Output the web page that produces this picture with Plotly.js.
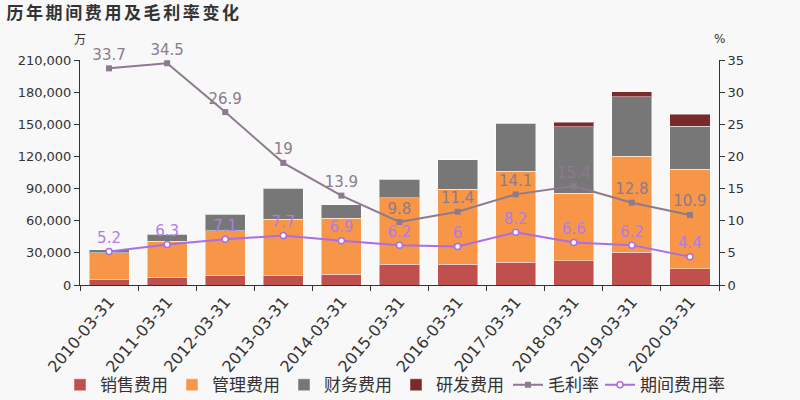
<!DOCTYPE html>
<html>
<head>
<meta charset="utf-8">
<script src="https://cdn.plot.ly/plotly-3.0.1.min.js"></script>
<style>html,body{margin:0;padding:0;background:#f8f8f8;}#chart{width:800px;height:400px;}
#chart .gtitle{letter-spacing:2.6px;}</style>
</head>
<body>
<div id="chart"></div>
<script>
var categories = ['2010-03-31','2011-03-31','2012-03-31','2013-03-31','2014-03-31','2015-03-31','2016-03-31','2017-03-31','2018-03-31','2019-03-31','2020-03-31'];
var salesExp = [5300, 7200, 9300, 9000, 10000, 19600, 19300, 21200, 22700, 30500, 15200];
var adminExp = [24800, 33600, 41400, 52600, 52200, 61900, 70300, 85200, 62900, 89600, 92800];
var financeExp = [2600, 6800, 15300, 28900, 12500, 17100, 27100, 44500, 61900, 55600, 40400];
var rdExp = [0, 0, 0, 0, 0, 0, 0, 0, 4300, 4700, 11200];
var grossMargin = [33.7, 34.5, 26.9, 19, 13.9, 9.8, 11.4, 14.1, 15.4, 12.8, 10.9];
var periodRate = [5.2, 6.3, 7.1, 7.7, 6.9, 6.2, 6, 8.2, 6.6, 6.2, 4.4];

var cjk = '"Noto Sans CJK SC", "DejaVu Sans", sans-serif';
var barLine = {color: 'rgba(255,255,255,0.45)', width: 1};

function barTrace(name, vals, color) {
  return {type: 'bar', name: name, x: categories, y: vals,
    marker: {color: color, line: barLine}, hoverinfo: 'y+name'};
}

var traces = [
  barTrace('销售费用', salesExp, '#c0504d'),
  barTrace('管理费用', adminExp, '#f79646'),
  barTrace('财务费用', financeExp, '#777777'),
  barTrace('研发费用', rdExp, '#7b2a2a'),
  {type: 'scatter', name: '毛利率', x: categories, y: grossMargin, yaxis: 'y2', cliponaxis: false,
    mode: 'lines+markers+text', text: grossMargin.map(String), textposition: 'top center',
    textfont: {color: '#8c7b8e', size: 15, family: 'DejaVu Sans, sans-serif'},
    line: {color: '#8c7b8e', width: 2}, marker: {symbol: 'square', size: 6, color: '#8c7b8e'}},
  {type: 'scatter', name: '期间费用率', x: categories, y: periodRate, yaxis: 'y2', cliponaxis: false, legend: 'legend2',
    mode: 'lines+markers+text', text: periodRate.map(String), textposition: 'top center',
    textfont: {color: '#b07ce8', size: 15, family: 'DejaVu Sans, sans-serif'},
    line: {color: '#a96ee6', width: 2}, marker: {symbol: 'circle', size: 6, color: '#ffffff', line: {color: '#a96ee6', width: 1.5}}}
];

var legendFont = {family: cjk, size: 17, color: '#333333'};

var layout = {
  width: 800, height: 400,
  paper_bgcolor: '#f8f8f8', plot_bgcolor: '#f8f8f8',
  margin: {l: 80, r: 81, t: 60, b: 115},
  barmode: 'stack', bargap: 0.31,
  font: {family: 'DejaVu Sans, sans-serif', color: '#333333', size: 13},
  title: {text: '历年期间费用及毛利率变化', xref: 'container', yref: 'container', x: 0.008, xanchor: 'left',
    y: 0.967, yanchor: 'middle', font: {family: cjk, size: 17, color: '#333', weight: 'bold'}},
  showlegend: true,
  legend: {orientation: 'h', traceorder: 'normal', xref: 'container', yref: 'container',
    x: 0.075, xanchor: 'left', y: 0.037, yanchor: 'middle', entrywidth: 67, entrywidthmode: 'pixels',
    font: legendFont, bgcolor: 'rgba(0,0,0,0)', itemwidth: 30},
  legend2: {orientation: 'h', xref: 'container', yref: 'container',
    x: 0.75, xanchor: 'left', y: 0.037, yanchor: 'middle',
    font: legendFont, bgcolor: 'rgba(0,0,0,0)', itemwidth: 30},
  xaxis: {type: 'category', tickangle: -50, tickson: 'boundaries', ticks: 'outside', ticklen: 5, automargin: false,
    tickcolor: '#333', showline: true, linecolor: '#333', linewidth: 1, showgrid: false,
    tickfont: {size: 16, color: '#333'}, range: [-0.5, 10.5]},
  yaxis: {range: [0, 210000], tickvals: [0,30000,60000,90000,120000,150000,180000,210000], automargin: false,
    tickformat: ',d', ticks: 'outside', ticklen: 5, tickcolor: '#333', showline: true, linecolor: '#333',
    showgrid: false, zeroline: false, tickfont: {size: 13, color: '#333'}},
  yaxis2: {overlaying: 'y', side: 'right', range: [0, 35], tickvals: [0,5,10,15,20,25,30,35], automargin: false,
    ticks: 'outside', ticklen: 5, tickcolor: '#333', showline: true, linecolor: '#333',
    showgrid: false, zeroline: false, tickfont: {size: 13, color: '#333'}},
  annotations: [
    {text: '万', xref: 'paper', yref: 'paper', x: 0, y: 1.095, xanchor: 'center', yanchor: 'middle',
      showarrow: false, font: {family: cjk, size: 12, color: '#333'}},
    {text: '%', xref: 'paper', yref: 'paper', x: 1, y: 1.095, xanchor: 'center', yanchor: 'middle',
      showarrow: false, font: {size: 12, color: '#333'}}
  ]
};

Plotly.newPlot('chart', traces, layout, {displayModeBar: false, staticPlot: true});
</script>
</body>
</html>
